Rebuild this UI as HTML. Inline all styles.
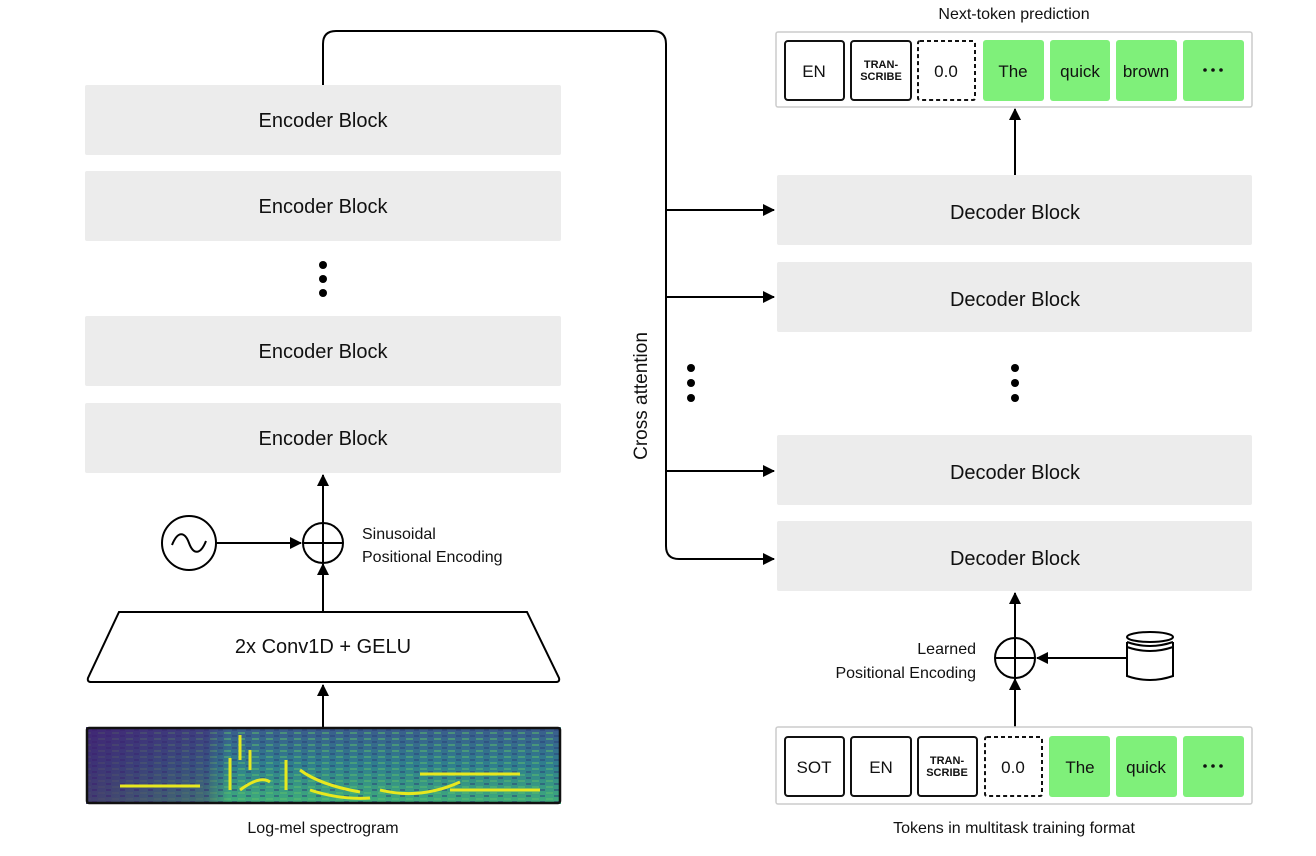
<!DOCTYPE html>
<html><head><meta charset="utf-8"><style>
html,body{margin:0;padding:0;background:#fff}
svg{display:block}
text{font-family:"Liberation Sans",sans-serif;fill:#111}
</style></head><body>
<svg width="1316" height="856" viewBox="0 0 1316 856" xmlns="http://www.w3.org/2000/svg">
<defs>
<marker id="ah" markerWidth="12" markerHeight="12" refX="11" refY="6" orient="auto" markerUnits="userSpaceOnUse">
<path d="M0,0 L12,6 L0,12 z" fill="#000"/></marker>
<linearGradient id="sg" x1="0" y1="0" x2="0" y2="1">
<stop offset="0" stop-color="#3b5b8c"/><stop offset="0.5" stop-color="#2f7f8e"/><stop offset="1" stop-color="#3fae7a"/></linearGradient>
<linearGradient id="sh" x1="0" y1="0" x2="1" y2="0">
<stop offset="0" stop-color="#44106a" stop-opacity="0.7"/><stop offset="0.25" stop-color="#44106a" stop-opacity="0.4"/><stop offset="0.3" stop-color="#44106a" stop-opacity="0"/><stop offset="1" stop-color="#44106a" stop-opacity="0"/></linearGradient>
<pattern id="noise" width="14" height="6" patternUnits="userSpaceOnUse">
<rect width="14" height="6" fill="none"/>
<rect x="0" y="0" width="7" height="2" fill="#5cc06a" opacity="0.5"/>
<rect x="8" y="3" width="5" height="2" fill="#2a3d7a" opacity="0.5"/>
</pattern>
</defs>
<g fill="#ececec">
<rect x="85" y="85" width="476" height="70" rx="2"/>
<rect x="85" y="171" width="476" height="70" rx="2"/>
<rect x="85" y="316" width="476" height="70" rx="2"/>
<rect x="85" y="403" width="476" height="70" rx="2"/>
<rect x="777" y="175" width="475" height="70" rx="2"/>
<rect x="777" y="262" width="475" height="70" rx="2"/>
<rect x="777" y="435" width="475" height="70" rx="2"/>
<rect x="777" y="521" width="475" height="70" rx="2"/>
</g>
<g font-size="20" text-anchor="middle">
<text x="323" y="127">Encoder Block</text>
<text x="323" y="213">Encoder Block</text>
<text x="323" y="358">Encoder Block</text>
<text x="323" y="445">Encoder Block</text>
<text x="1015" y="219">Decoder Block</text>
<text x="1015" y="306">Decoder Block</text>
<text x="1015" y="479">Decoder Block</text>
<text x="1015" y="565">Decoder Block</text>
</g>
<g fill="#000">
<circle cx="323" cy="265" r="4"/><circle cx="323" cy="279" r="4"/><circle cx="323" cy="293" r="4"/>
<circle cx="691" cy="368" r="4"/><circle cx="691" cy="383" r="4"/><circle cx="691" cy="398" r="4"/>
<circle cx="1015" cy="368" r="4"/><circle cx="1015" cy="383" r="4"/><circle cx="1015" cy="398" r="4"/>
</g>
<g stroke="#000" stroke-width="2" fill="none">
<path d="M323,85 V44 Q323,31 336,31 H653 Q666,31 666,44 V546 Q666,559 679,559 H774" marker-end="url(#ah)"/>
<path d="M666,210 H774" marker-end="url(#ah)"/>
<path d="M666,297 H774" marker-end="url(#ah)"/>
<path d="M666,471 H774" marker-end="url(#ah)"/>
<path d="M1015,175 V109" marker-end="url(#ah)"/>
<path d="M323,523 V475" marker-end="url(#ah)"/>
<path d="M216,543 H301" marker-end="url(#ah)"/>
<path d="M323,612 V564" marker-end="url(#ah)"/>
<path d="M323,727 V685" marker-end="url(#ah)"/>
<path d="M1015,637 V593" marker-end="url(#ah)"/>
<path d="M1127,658 H1037" marker-end="url(#ah)"/>
<path d="M1015,727 V679" marker-end="url(#ah)"/>
<circle cx="189" cy="543" r="27"/>
<path d="M172,545 C178,530 185,532 189,543 C193,554 200,556 206,541"/>
<circle cx="323" cy="543" r="20"/><path d="M303,543 H343 M323,523 V563"/>
<circle cx="1015" cy="658" r="20"/><path d="M995,658 H1035 M1015,638 V678"/>
<path d="M119,612 H527 L559,678 Q560,682 556,682 H91 Q87,682 88,678 Z"/>
<path d="M1127,642 V676 Q1150,684 1173,676 V642"/>
<ellipse cx="1150" cy="637" rx="23" ry="5"/>
<path d="M1127,642 Q1150,650 1173,642 M1127,647 Q1150,655 1173,647"/>
</g>
<text x="323" y="653" font-size="20" text-anchor="middle">2x Conv1D + GELU</text>
<text x="362" y="539" font-size="16">Sinusoidal</text>
<text x="362" y="562" font-size="16">Positional Encoding</text>
<text x="976" y="654" font-size="16" text-anchor="end">Learned</text>
<text x="976" y="678" font-size="16" text-anchor="end">Positional Encoding</text>
<text x="1014" y="19" font-size="16" text-anchor="middle">Next-token prediction</text>
<text x="323" y="833" font-size="16" text-anchor="middle">Log-mel spectrogram</text>
<text x="1014" y="833" font-size="16" text-anchor="middle">Tokens in multitask training format</text>
<text transform="translate(647,396) rotate(-90)" font-size="19" text-anchor="middle">Cross attention</text>
<!-- spectrogram -->
<rect x="86" y="727" width="475" height="77" fill="url(#sg)"/>
<rect x="86" y="727" width="475" height="77" fill="url(#noise)"/>
<rect x="86" y="727" width="475" height="77" fill="url(#sh)"/>
<g stroke="#e7e81f" stroke-width="3" fill="none">
<path d="M120,786 H200 M240,790 Q260,775 270,782 M230,758 V790 M300,770 Q320,785 360,792 M310,790 Q340,800 370,798 M380,790 Q420,800 460,782 M450,790 H540 M420,774 H520"/>
<path d="M286,760 V790 M250,750 V770 M240,735 V760"/>
</g>
<rect x="87" y="728" width="473" height="75" fill="none" stroke="#111" stroke-width="2.5" rx="2"/>
<!-- top tokens -->
<rect x="776" y="32" width="476" height="75" fill="#fff" stroke="#ccc" stroke-width="1.5" rx="2"/>
<g stroke="#111" stroke-width="2" fill="#fff">
<rect x="785" y="41" width="59" height="59" rx="3"/>
<rect x="851" y="41" width="60" height="59" rx="3"/>
<rect x="918" y="41" width="57" height="59" rx="2" stroke-dasharray="4,3"/>
<rect x="785" y="737" width="59" height="59" rx="3"/>
<rect x="851" y="737" width="60" height="59" rx="3"/>
<rect x="918" y="737" width="59" height="59" rx="3"/>
<rect x="985" y="737" width="57" height="59" rx="2" stroke-dasharray="4,3"/>
</g>
<g fill="#7ff07a">
<rect x="983" y="40" width="61" height="61" rx="3"/>
<rect x="1050" y="40" width="60" height="61" rx="3"/>
<rect x="1116" y="40" width="61" height="61" rx="3"/>
<rect x="1183" y="40" width="61" height="61" rx="3"/>
<rect x="1049" y="736" width="61" height="61" rx="3"/>
<rect x="1116" y="736" width="61" height="61" rx="3"/>
<rect x="1183" y="736" width="61" height="61" rx="3"/>
</g>
<g font-size="17" text-anchor="middle">
<text x="814" y="77">EN</text>
<text x="946" y="77">0.0</text>
<text x="1013" y="77">The</text>
<text x="1080" y="77">quick</text>
<text x="1146" y="77">brown</text>
<text x="814" y="773">SOT</text>
<text x="881" y="773">EN</text>
<text x="1013" y="773">0.0</text>
<text x="1080" y="773">The</text>
<text x="1146" y="773">quick</text>
</g>
<g fill="#111">
<circle cx="1205" cy="70" r="1.8"/><circle cx="1213" cy="70" r="1.8"/><circle cx="1221" cy="70" r="1.8"/>
<circle cx="1205" cy="766" r="1.8"/><circle cx="1213" cy="766" r="1.8"/><circle cx="1221" cy="766" r="1.8"/>
</g>
<g font-size="11" font-weight="bold" text-anchor="middle">
<text x="881" y="68">TRAN-</text><text x="881" y="80">SCRIBE</text>
<text x="947" y="764">TRAN-</text><text x="947" y="776">SCRIBE</text>
</g>
<rect x="776" y="727" width="476" height="77" fill="none" stroke="#ccc" stroke-width="1.5" rx="2"/>
</svg>
</body></html>
